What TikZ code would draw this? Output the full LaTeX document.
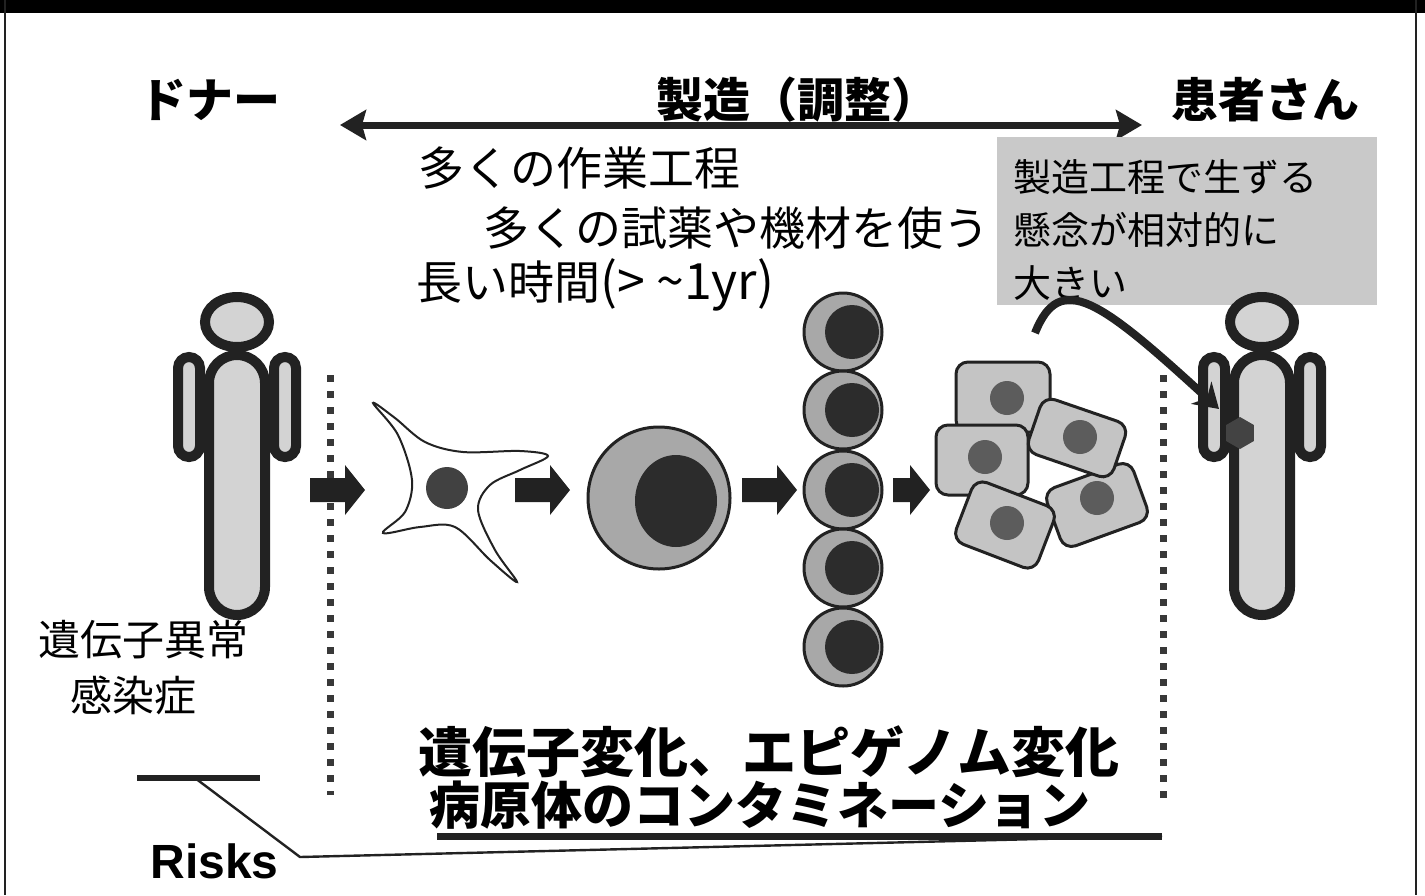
\documentclass[tikz,border=0pt]{standalone}
\usepackage{fontspec}
\setmainfont{Liberation Sans}
\newfontfamily\jp{Noto Sans CJK JP}
\usetikzlibrary{arrows.meta,shapes.geometric}

\definecolor{inkgray}{HTML}{222222}
\definecolor{skingray}{HTML}{D3D3D3}
\definecolor{cellgray}{HTML}{A8A8A8}
\definecolor{coregray}{HTML}{2C2C2C}
\definecolor{tissuegray}{HTML}{C4C4C4}
\definecolor{nucgray}{HTML}{5C5C5C}
\definecolor{notegray}{HTML}{C9C9C9}

\tikzset{
  personline/.style={draw=inkgray, fill=skingray, line width=5pt},
  heading/.style={font=\jp\bfseries\fontsize{23.5}{28}\selectfont, inner sep=0pt},
  plain/.style={font=\jp\fontsize{23}{28}\selectfont, anchor=west, inner sep=0pt},
  riskline/.style={font=\jp\bfseries\fontsize{27}{32}\selectfont, inner sep=0pt},
  dotline/.style={draw=inkgray!90, line width=3.5pt, dash pattern=on 3.5pt off 4.5pt},
  arrowfill/.style={fill=inkgray},
  roundcell/.style={draw=inkgray, line width=1.5pt, fill=cellgray},
  tissuecell/.style={rectangle, draw=inkgray, line width=1.5pt, fill=tissuegray,
    rounded corners=6pt, inner sep=0pt},
  nucleus/.style={circle, fill=nucgray, inner sep=0pt, minimum size=17pt},
  pics/person/.style={code={
    \draw[personline, rounded corners=5.5pt] (-59,357) rectangle (-37,457);
    \draw[personline, rounded corners=5.5pt] (37,357) rectangle (59,457);
    \draw[personline, rounded corners=14pt] (-28,355) rectangle (28,615);
    \draw[personline] (0,322) ellipse [x radius=32, y radius=25];
  }}
}

% fat arrow from x=#1 to tip x=#2 at height #3
\newcommand{\blockarrow}[3]{%
  \fill[arrowfill] (#1,#3-12) -- (#2-20,#3-12) -- (#2-20,#3-25) -- (#2,#3)
    -- (#2-20,#3+25) -- (#2-20,#3+12) -- (#1,#3+12) -- cycle;}

\begin{document}
\begin{tikzpicture}[x=0.5pt, y=-0.5pt]
  \fill[white] (0,0) rectangle (1425,895);
  \useasboundingbox (0,0) rectangle (1425,895);

  % frame
  \fill[black] (0,0) rectangle (1425,13);
  \draw[line width=1pt, inkgray] (5,0) -- (5,895);
  \draw[line width=1pt, inkgray] (1416,0) -- (1416,895);

  % headings
  \node[heading] (donor) at (210,100) {ドナー};
  \node[heading] (making) at (797,100) {製造（調整）};
  \node[heading] (patient) at (1265,100) {患者さん};
  \coordinate (spanleft) at (340,125);
  \coordinate (spanright) at (1142,125);
  \draw[{Stealth[length=13pt,width=15pt,inset=2pt]}-{Stealth[length=13pt,width=15pt,inset=2pt]},
    line width=3.5pt, inkgray] (spanleft) -- (spanright);

  \node[plain] (steps) at (418,168) {多くの作業工程};
  \node[plain] (reagents) at (483,228) {多くの試薬や機材を使う};
  \node[plain] (time) at (416,285) {{\jp 長い時間}{\fontsize{25}{28}\selectfont(> \textasciitilde1yr)}};

  % note box
  \node[fill=notegray, anchor=north west, minimum width=190pt, minimum height=84pt,
    inner sep=0pt] (concernbox) at (997,137) {};
  \node[anchor=north west, align=left, inner sep=0pt,
    font=\jp\fontsize{19}{26.5}\selectfont] (concern) at (1013,159)
    {製造工程で生ずる\\懸念が相対的に\\大きい};

  % donor and patient
  \pic at (237,0) {person};
  \pic at (1262,0) {person};
  \node[regular polygon, regular polygon sides=6, shape border rotate=90,
    fill=inkgray!85, minimum size=16pt, inner sep=0pt] (lesion) at (1240,433) {};
  \coordinate (concernstart) at (1035,333);
  \coordinate (arrowtip) at (1219,409);
  \draw[-{Stealth[length=12pt,width=15pt]}, line width=4pt, inkgray]
    (concernstart) .. controls (1060,270) and (1100,300) .. (arrowtip);

  \node[font=\jp\fontsize{21}{26}\selectfont, anchor=west, inner sep=0pt] (defect) at (38,640) {遺伝子異常};
  \node[font=\jp\fontsize{21}{26}\selectfont, inner sep=0pt] (infect) at (133,695) {感染症};

  % separators
  \draw[dotline] (330,375) -- (330,795);
  \draw[dotline] (1163,375) -- (1163,800);

  % fibroblast
  \draw[inkgray, line width=1pt, fill=white] plot[smooth cycle, tension=0.55] coordinates {
    (373,403) (395,418) (425,442) (463,452) (520,451) (548,456) (520,470) (490,485)
    (478,510) (495,550) (517,582) (490,560) (455,527) (420,527) (383,533) (405,512)
    (412,480) (398,435)};
  \fill[coregray!90] (447,488) circle [radius=21];

  % stem cell
  \draw[roundcell] (659,498) circle [radius=71];
  \fill[coregray] (676,501) ellipse [x radius=41, y radius=46];

  % expanded cells
  \foreach \cy in {332,410,490,568,647} {
    \draw[roundcell] (843,\cy) circle [radius=39];
    \fill[coregray] (852,\cy) circle [radius=27];
  }

  % differentiated cells
  \node[tissuecell, minimum width=47pt, minimum height=35pt] (cellA) at (1003,397) {};
  \node[nucleus] at (1007,398) {};
  \node[tissuecell, minimum width=46pt, minimum height=35pt] (cellB) at (982,460) {};
  \node[nucleus] at (985,457) {};
  \node[tissuecell, minimum width=46pt, minimum height=31pt, rotate=20] (cellD) at (1097,505) {};
  \node[nucleus] at (1097,498) {};
  \node[tissuecell, minimum width=45pt, minimum height=29pt, rotate=-19] (cellC) at (1077,438) {};
  \node[nucleus] at (1080,437) {};
  \node[tissuecell, minimum width=44pt, minimum height=33pt, rotate=-21] (cellE) at (1005,525) {};
  \node[nucleus] at (1007,523) {};

  % process arrows
  \blockarrow{310}{365}{490}
  \blockarrow{515}{570}{490}
  \blockarrow{742}{797}{490}
  \blockarrow{893}{930}{490}

  % risks
  \node[riskline] (change) at (769,752) {遺伝子変化、エピゲノム変化};
  \node[font=\jp\bfseries\fontsize{25.5}{30}\selectfont, inner sep=0pt] (contam) at (760,805) {病原体のコンタミネーション};
  \node[font=\bfseries\fontsize{24}{28}\selectfont, anchor=west, inner sep=0pt] (risks) at (150,861) {Risks};
  \coordinate (barleft) at (137,778);
  \coordinate (barright) at (260,778);
  \coordinate (barmid) at (195,778);
  \coordinate (kink) at (300,857);
  \coordinate (ulleft) at (437,836);
  \coordinate (ulright) at (1162,836);
  \draw[line width=3pt, inkgray] (barleft) -- (barright);
  \draw[line width=3.5pt, inkgray] (ulleft) -- (ulright);
  \draw[line width=1.2pt, inkgray] (barmid) -- (kink) -- (ulright);
\end{tikzpicture}
\end{document}
